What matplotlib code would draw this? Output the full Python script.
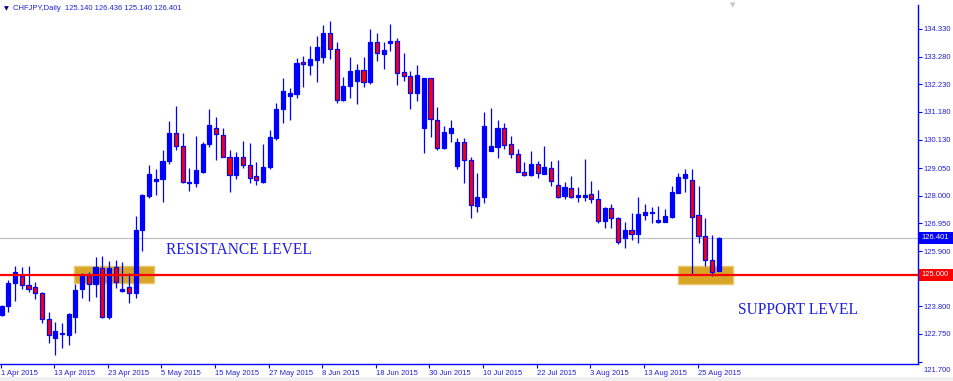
import numpy as np
import pandas as pd
import matplotlib
matplotlib.use("Agg")
import matplotlib.pyplot as plt
import matplotlib.transforms as mtransforms
from matplotlib.patches import Rectangle

# daily bars, CHFJPY, 1 Apr - 28 Aug 2015 (weekdays)
dates = pd.bdate_range("2015-04-01", "2015-08-28")

opens = [123.47, 123.82, 124.70, 124.95, 124.60, 124.52, 124.30, 123.31, 122.61, 122.74,
         122.71, 123.41, 124.47, 124.99, 124.64, 125.25, 123.41, 125.28, 124.37, 124.55,
         124.30, 126.68, 127.99, 128.56, 128.62, 129.33, 130.39, 129.90, 128.47, 128.47,
         128.91, 129.96, 130.56, 130.31, 129.48, 128.79, 129.46, 129.17, 128.75, 128.53,
         129.08, 130.18, 131.28, 131.80, 131.86, 133.08, 132.96, 133.17, 133.28, 134.17,
         133.57, 131.64, 132.17, 132.34, 132.77, 132.32, 133.82, 133.38, 133.81, 133.87,
         132.70, 132.55, 131.89, 130.58, 132.47, 130.88, 129.82, 130.39, 129.14, 130.04,
         129.36, 127.62, 127.94, 129.70, 129.86, 130.58, 129.95, 129.57, 128.91, 128.79,
         129.21, 128.81, 129.07, 128.41, 127.99, 128.28, 127.94, 127.96, 128.05, 127.86,
         127.05, 127.52, 127.14, 126.38, 126.70, 126.55, 127.27, 127.33, 127.01, 127.01,
         127.20, 128.12, 128.68, 128.60, 127.27, 126.47, 125.56, 125.140]
highs = [123.85, 124.80, 125.33, 125.28, 125.34, 124.74, 124.36, 123.57, 123.22, 123.16,
         123.56, 124.65, 125.06, 125.12, 125.66, 125.71, 125.52, 125.56, 125.47, 125.06,
         127.23, 128.05, 129.17, 129.00, 129.74, 130.84, 131.42, 130.39, 129.04, 130.27,
         130.05, 131.29, 131.00, 130.58, 129.74, 129.67, 130.08, 130.01, 129.29, 129.95,
         130.50, 131.51, 132.48, 132.08, 133.22, 133.31, 133.68, 134.07, 134.48, 134.63,
         133.82, 132.50, 133.28, 133.00, 133.28, 134.32, 134.19, 133.85, 134.52, 133.98,
         133.43, 132.74, 132.95, 132.47, 132.47, 131.38, 130.65, 130.88, 130.20, 130.20,
         129.48, 128.85, 131.19, 131.34, 130.88, 130.75, 130.27, 129.77, 129.27, 129.70,
         129.33, 129.89, 129.32, 129.35, 128.53, 128.75, 128.34, 129.38, 128.56, 128.22,
         127.58, 127.67, 127.20, 127.01, 127.36, 127.96, 127.69, 127.58, 127.61, 127.49,
         128.37, 128.85, 129.01, 129.01, 128.38, 127.17, 126.51, 126.436]
lows = [123.43, 123.60, 124.02, 124.46, 124.36, 124.07, 123.16, 122.40, 121.95, 122.23,
        122.33, 122.80, 124.11, 124.02, 124.15, 123.37, 123.31, 124.49, 124.36, 123.94,
        124.11, 125.90, 127.90, 128.03, 127.75, 129.19, 129.74, 128.49, 128.19, 128.32,
        128.85, 129.86, 129.36, 129.46, 128.15, 128.62, 129.04, 128.49, 128.41, 128.47,
        129.02, 130.12, 130.75, 130.88, 131.70, 132.14, 132.58, 132.33, 133.05, 133.18,
        131.53, 131.61, 131.70, 131.48, 132.14, 132.24, 133.11, 132.80, 133.49, 132.19,
        132.37, 131.29, 131.61, 129.63, 130.24, 129.74, 129.77, 130.05, 129.02, 128.47,
        127.14, 127.37, 127.71, 129.70, 129.45, 129.76, 129.45, 128.89, 128.75, 128.75,
        128.66, 128.81, 128.38, 127.90, 127.86, 127.90, 127.77, 127.80, 127.74, 126.95,
        126.76, 126.76, 126.16, 126.03, 126.32, 126.22, 127.08, 126.98, 126.98, 126.99,
        127.14, 128.09, 128.15, 124.99, 126.19, 125.33, 124.96, 125.140]
closes = [123.81, 124.70, 125.09, 124.60, 124.45, 124.30, 123.31, 122.71, 122.87, 122.79,
          123.52, 124.42, 124.95, 124.64, 125.31, 123.39, 125.25, 124.71, 124.46, 124.32,
          126.70, 128.03, 128.81, 128.64, 129.33, 130.39, 129.90, 128.53, 128.53, 128.98,
          129.95, 130.69, 130.35, 129.48, 128.79, 129.46, 129.17, 128.66, 128.59, 129.10,
          130.22, 131.29, 131.98, 131.89, 133.05, 132.99, 133.19, 133.65, 134.19, 133.57,
          131.64, 132.17, 132.72, 132.77, 132.32, 133.84, 133.41, 133.53, 133.87, 132.67,
          132.55, 131.91, 132.58, 132.47, 130.90, 129.82, 130.42, 130.58, 130.04, 129.36,
          127.65, 127.96, 130.65, 129.89, 130.58, 129.93, 129.57, 128.91, 128.79, 129.21,
          128.85, 129.09, 128.56, 127.96, 128.32, 127.96, 128.03, 128.03, 127.88, 127.05,
          127.52, 127.14, 126.23, 126.70, 126.55, 127.30, 127.39, 127.39, 127.08, 127.23,
          128.13, 128.70, 128.82, 127.20, 126.48, 125.56, 125.12, 126.401]

date_labels = ["1 Apr 2015", "13 Apr 2015", "23 Apr 2015", "5 May 2015", "15 May 2015",
               "27 May 2015", "8 Jun 2015", "18 Jun 2015", "30 Jun 2015", "10 Jul 2015",
               "22 Jul 2015", "3 Aug 2015", "13 Aug 2015", "25 Aug 2015"]
price_ticks = [134.330, 133.280, 132.230, 131.180, 130.130, 129.050, 128.000,
               126.950, 125.900, 124.850, 123.800, 122.750, 121.700]

level_price = 125.000
last_price = 126.401
# zones: (first bar, last bar, low, high)
zones = [(10.8, 22.7, 124.69, 125.33), (100.9, 109.1, 124.65, 125.33)]

o = np.array(opens); h = np.array(highs); l = np.array(lows); c = np.array(closes)
x = np.arange(len(o))

fig = plt.figure(figsize=(9.54, 3.81), dpi=100)
fig.patch.set_facecolor("white")
ax = fig.add_axes([0, 17 / 381, 918 / 954, 359 / 381])

AXBLUE = "#0000ff"
TXTBLUE = "#2323d6"

for z in zones:
    ax.add_patch(Rectangle((z[0], z[2]), z[1] - z[0], z[3] - z[2],
                           facecolor="#d9a526", edgecolor="#ebc56a", lw=1, zorder=1))

ax.axhline(last_price, color="#c0c0c0", lw=0.9, zorder=1.5)

ax.vlines(x, l, h, color=AXBLUE, lw=0.9, zorder=2)
body_lo = np.minimum(o, c)
body_h = np.maximum(np.abs(c - o), 0.03)
cols = np.where(c >= o, AXBLUE, "#ff0000")
ax.bar(x, body_h, bottom=body_lo, width=0.62, color=cols, edgecolor=AXBLUE,
       linewidth=0.9, zorder=3)

ax.axhline(level_price, color="#ff0000", lw=1.6, zorder=5)

ax.text(24.5, 125.94, "RESISTANCE LEVEL", family="Liberation Serif", fontsize=11.2,
        color="#2020e0", va="center", ha="left", zorder=6)
ax.text(109.9, 123.66, "SUPPORT LEVEL", family="Liberation Serif", fontsize=11.2,
        color="#2020e0", va="center", ha="left", zorder=6)

ax.set_xlim(-0.254, 136.76)
ax.set_ylim(121.61, 135.24)

# x axis
tick_pos = [dates.get_loc(pd.to_datetime(s, format="%d %b %Y")) - 0.15 for s in date_labels]
ax.set_xticks(tick_pos)
ax.set_xticklabels(date_labels, ha="left", family="Liberation Sans", fontsize=5.5, color=TXTBLUE)
ax.tick_params(axis="x", direction="out", length=3, width=0.8, color=AXBLUE, pad=1)

# y axis on the right
ax.yaxis.tick_right()
ax.set_yticks(price_ticks)
ax.set_yticklabels([f"{p:.3f}" for p in price_ticks], family="Liberation Sans",
                   fontsize=5.5, color=TXTBLUE)
ax.tick_params(axis="y", direction="out", length=3, width=0.8, color=AXBLUE, pad=1)
lab = ax.get_yticklabels()[-1]
lab.set_transform(lab.get_transform() + mtransforms.ScaledTranslation(0, -0.08, fig.dpi_scale_trans))

for s in ["top", "left"]:
    ax.spines[s].set_visible(False)
for s in ["right", "bottom"]:
    ax.spines[s].set_color(AXBLUE)
    ax.spines[s].set_linewidth(1)

# price tags on the scale
trans = mtransforms.blended_transform_factory(ax.transAxes, ax.transData)
tag_h = 12 / 26.34
for p, fc in [(last_price, "#0000ff"), (level_price, "#ff0000")]:
    ax.add_patch(Rectangle((1 + 1 / 918, p - tag_h / 2), 40 / 918, tag_h, transform=trans,
                           facecolor=fc, edgecolor="none", clip_on=False, zorder=9))
    ax.annotate(f"{p:.3f}", xy=(1, p), xycoords=trans, xytext=(2.3, 0),
                textcoords="offset points", ha="left", va="center",
                family="Liberation Sans", fontsize=5.5, color="white",
                annotation_clip=False, zorder=10)

fig.text(4 / 954, 1 - 9 / 381, "\u25bc", fontsize=4.5, color="#000080", va="center", ha="left")
fig.text(13 / 954, 1 - 9 / 381, "CHFJPY,Daily  125.140 126.436 125.140 126.401",
         family="Liberation Sans", fontsize=5.5, color=TXTBLUE, va="center", ha="left")
fig.text(733 / 954, 1 - 5 / 381, "\u25bc", fontsize=5, color="#c8c8c8", va="center", ha="center")
fig.patches.append(Rectangle((0, 0), 1, 4 / 381, transform=fig.transFigure,
                             facecolor="#f0f0f0", edgecolor="none"))

fig.savefig("out.png", dpi=100)
